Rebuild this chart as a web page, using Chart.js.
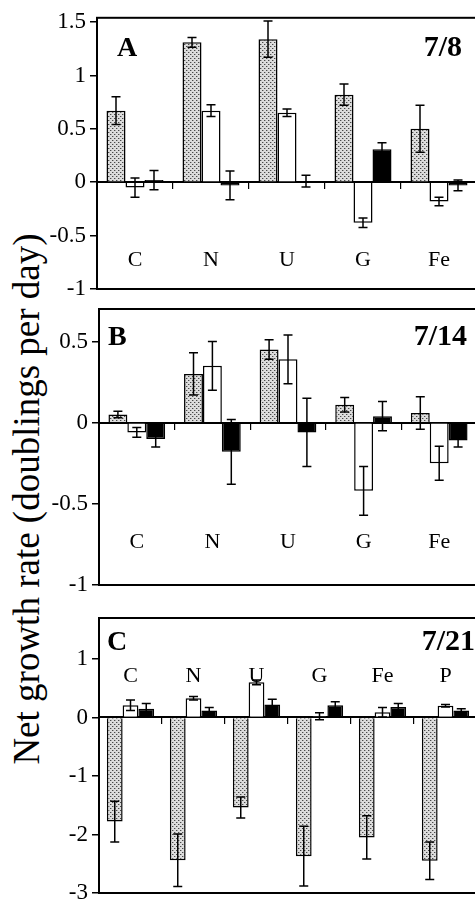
<!DOCTYPE html>
<html>
<head>
<meta charset="utf-8">
<script src="https://cdn.jsdelivr.net/npm/chart.js@4.4.1/dist/chart.umd.min.js"></script>
<style>
  html, body { margin: 0; padding: 0; background: #fff; }
  body { width: 475px; height: 902px; overflow: hidden; position: relative; }
  canvas { position: absolute; left: 0; }
  #ytitle {
    position: absolute; left: 26px; top: 499px;
    transform: translate(-50%, -50%) rotate(-90deg);
    font-family: "Liberation Serif", serif; font-size: 37px; line-height: 1;
    white-space: nowrap; color: #000;
  }
</style>
</head>
<body>
<div id="ytitle">Net growth rate (doublings per day)</div>
<canvas id="cA" width="490" height="320" style="top:0px;width:490px;height:320px"></canvas>
<canvas id="cB" width="490" height="330" style="top:280px;width:490px;height:330px"></canvas>
<canvas id="cC" width="490" height="330" style="top:590px;width:490px;height:330px"></canvas>
<script>
// ---------- data ----------
const categoriesAB = ['C', 'N', 'U', 'G', 'Fe'];
const categoriesC  = ['C', 'N', 'U', 'G', 'Fe', 'P'];

const aStippled    = [0.67, 1.31, 1.34, 0.82, 0.50];
const aStippledErr = [0.13, 0.045, 0.17, 0.10, 0.22];
const aWhite       = [-0.05, 0.67, 0.65, -0.38, -0.18];
const aWhiteErr    = [0.09, 0.055, 0.035, 0.045, 0.04];
const aBlack       = [0.02, -0.03, 0.01, 0.31, -0.03];
const aBlackErr    = [0.09, 0.135, 0.055, 0.06, 0.05];

const bStippled    = [0.05, 0.30, 0.45, 0.11, 0.06];
const bStippledErr = [0.02, 0.13, 0.06, 0.045, 0.10];
const bWhite       = [-0.06, 0.35, 0.39, -0.42, -0.25];
const bWhiteErr    = [0.03, 0.15, 0.15, 0.15, 0.105];
const bBlack       = [-0.10, -0.18, -0.06, 0.04, -0.11];
const bBlackErr    = [0.05, 0.20, 0.21, 0.09, 0.04];

const cStippled    = [-1.78, -2.44, -1.54, -2.37, -2.05, -2.45];
const cStippledErr = [0.35, 0.45, 0.18, 0.51, 0.37, 0.32];
const cWhite       = [0.21, 0.33, 0.60, 0.02, 0.09, 0.20];
const cWhiteErr    = [0.09, 0.03, 0.04, 0.06, 0.08, 0.02];
const cBlack       = [0.15, 0.12, 0.22, 0.21, 0.18, 0.12];
const cBlackErr    = [0.09, 0.05, 0.09, 0.06, 0.06, 0.03];

const panelLetters = ['A', 'B', 'C'];
const panelDates   = ['7/8', '7/14', '7/21'];

// ---------- styling helpers ----------
const SERIF = '"Liberation Serif", "Times New Roman", serif';

function makeStipple() {
  const c = document.createElement('canvas');
  c.width = 4; c.height = 4;
  const g = c.getContext('2d');
  g.fillStyle = '#dcdcdc'; g.fillRect(0, 0, 4, 4);
  g.fillStyle = '#4a4a4a';
  g.fillRect(0, 0, 1, 1);
  g.fillRect(2, 2, 1, 1);
  g.fillStyle = '#a8a8a8';
  g.fillRect(1, 0, 1, 1);
  g.fillRect(3, 2, 1, 1);
  return document.getElementById('cA').getContext('2d').createPattern(c, 'repeat');
}
const stipple = makeStipple();

const decorPlugin = {
  id: 'decor',
  afterDatasetsDraw(chart) {
    const ctx = chart.ctx, ys = chart.scales.y;
    chart.data.datasets.forEach((ds, i) => {
      const meta = chart.getDatasetMeta(i);
      meta.data.forEach((bar, j) => {
        const v = ds.data[j], e = ds.err[j];
        const yt = ys.getPixelForValue(v + e), yb = ys.getPixelForValue(v - e);
        ctx.save();
        ctx.strokeStyle = '#000'; ctx.lineWidth = 1.5;
        ctx.beginPath();
        ctx.moveTo(bar.x, yt); ctx.lineTo(bar.x, yb);
        ctx.moveTo(bar.x - 4.5, yt); ctx.lineTo(bar.x + 4.5, yt);
        ctx.moveTo(bar.x - 4.5, yb); ctx.lineTo(bar.x + 4.5, yb);
        ctx.stroke();
        ctx.restore();
      });
    });
  },
  afterDraw(chart, args, opts) {
    const ctx = chart.ctx, a = chart.chartArea, xs = chart.scales.x, ys = chart.scales.y;
    ctx.save();
    ctx.strokeStyle = '#000'; ctx.lineWidth = 2;
    ctx.strokeRect(a.left, a.top, a.right - a.left, a.bottom - a.top);
    ctx.fillStyle = '#000';
    ctx.textBaseline = 'alphabetic';
    ctx.font = '22px ' + SERIF;
    ctx.textAlign = 'center';
    const yl = ys.getPixelForValue(opts.catY);
    chart.data.labels.forEach((lab, i) => {
      ctx.fillText(lab, xs.getPixelForValue(i), yl);
    });
    ctx.font = 'bold 28px ' + SERIF;
    ctx.textAlign = 'left';
    ctx.fillText(opts.letter, a.left + opts.letterDx, a.top + opts.textDy);
    ctx.font = 'bold 30px ' + SERIF;
    ctx.textAlign = 'right';
    ctx.fillText(opts.date, a.right - opts.dateDx, a.top + opts.textDy);
    ctx.restore();
  }
};

function makeChart(id, labels, series, cfg) {
  const [s, sE, w, wE, b, bE] = series;
  return new Chart(document.getElementById(id), {
    type: 'bar',
    data: {
      labels: labels,
      datasets: [
        { data: s, err: sE, backgroundColor: stipple, borderColor: '#000', borderWidth: 1.5 },
        { data: w, err: wE, backgroundColor: '#fff', borderColor: '#000', borderWidth: 1.5 },
        { data: b, err: bE, backgroundColor: '#000', borderColor: '#000', borderWidth: 1.5 }
      ]
    },
    options: {
      responsive: false,
      devicePixelRatio: 1,
      animation: false,
      events: [],
      layout: { padding: cfg.padding },
      datasets: { bar: { barPercentage: 1.0, categoryPercentage: 0.75 } },
      plugins: {
        legend: { display: false },
        tooltip: { enabled: false },
        decor: cfg.decor
      },
      scales: {
        x: {
          type: 'category',
          position: { y: 0 },
          z: 1,
          offset: true,
          ticks: { display: false },
          grid: { display: true, offset: true, drawOnChartArea: false, drawTicks: true,
                  tickLength: 6, color: '#000', lineWidth: 1.2 },
          border: { display: true, color: '#000', width: 2 }
        },
        y: {
          min: cfg.min, max: cfg.max,
          ticks: { stepSize: cfg.step, includeBounds: false, color: '#000', padding: 4,
                   font: { family: SERIF, size: 23 },
                   callback: (v) => String(Math.round(v * 10) / 10) },
          grid: { display: true, drawOnChartArea: false, drawTicks: true, tickLength: 7,
                  color: '#000', lineWidth: 1.5 },
          border: { display: true, color: '#000', width: 2 },
          afterFit(axis) { axis.width = cfg.yWidth; }
        }
      }
    },
    plugins: [decorPlugin]
  });
}

makeChart('cA', categoriesAB, [aStippled, aStippledErr, aWhite, aWhiteErr, aBlack, aBlackErr], {
  padding: { top: 15, bottom: 31, left: 0, right: 13 },
  min: -1, max: 1.54, step: 0.5, yWidth: 97,
  decor: { catY: -0.78, letter: panelLetters[0], date: panelDates[0], letterDx: 20, dateDx: 15, textDy: 38 }
});
makeChart('cB', categoriesAB, [bStippled, bStippledErr, bWhite, bWhiteErr, bBlack, bBlackErr], {
  padding: { top: 29, bottom: 25, left: 0, right: 13 },
  min: -1, max: 0.7, step: 0.5, yWidth: 99,
  decor: { catY: -0.77, letter: panelLetters[1], date: panelDates[1], letterDx: 9, dateDx: 10, textDy: 36 }
});
makeChart('cC', categoriesC, [cStippled, cStippledErr, cWhite, cWhiteErr, cBlack, cBlackErr], {
  padding: { top: 28, bottom: 27, left: 0, right: 13 },
  min: -3, max: 1.7, step: 1, yWidth: 99,
  decor: { catY: 0.61, letter: panelLetters[2], date: panelDates[2], letterDx: 8, dateDx: 2, textDy: 32 }
});
</script>
</body>
</html>
